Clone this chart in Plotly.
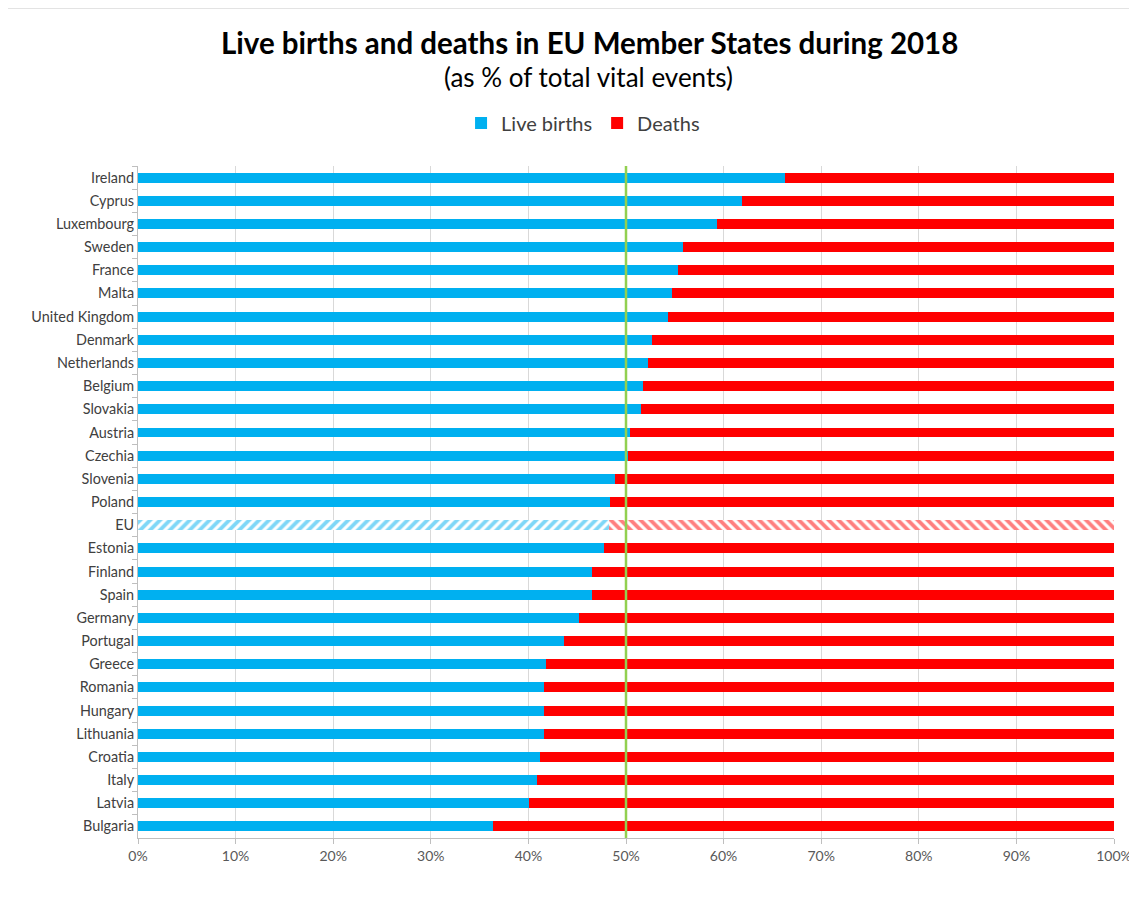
import plotly.graph_objects as go

countries = ["Ireland", "Cyprus", "Luxembourg", "Sweden", "France", "Malta",
             "United Kingdom", "Denmark", "Netherlands", "Belgium", "Slovakia",
             "Austria", "Czechia", "Slovenia", "Poland", "EU", "Estonia",
             "Finland", "Spain", "Germany", "Portugal", "Greece", "Romania",
             "Hungary", "Lithuania", "Croatia", "Italy", "Latvia", "Bulgaria"]

live_births = [66.3, 61.9, 59.3, 55.8, 55.3, 54.7, 54.3, 52.7, 52.3, 51.7,
               51.5, 50.4, 50.2, 48.9, 48.4, 48.3, 47.7, 46.5, 46.5, 45.2,
               43.6, 41.8, 41.6, 41.6, 41.6, 41.2, 40.9, 40.1, 36.4]

deaths = [33.7, 38.1, 40.7, 44.2, 44.7, 45.3, 45.7, 47.3, 47.7, 48.3,
          48.5, 49.6, 49.8, 51.1, 51.6, 51.7, 52.3, 53.5, 53.5, 54.8,
          56.4, 58.2, 58.4, 58.4, 58.4, 58.8, 59.1, 59.9, 63.6]

x_tick_values = [0, 10, 20, 30, 40, 50, 60, 70, 80, 90, 100]
x_tick_labels = ["0%", "10%", "20%", "30%", "40%", "50%", "60%", "70%",
                 "80%", "90%", "100%"]

BLUE = "#00B0F0"
RED = "#FF0000"
FONT = "Lato"

births_patterns = ["/" if c == "EU" else "" for c in countries]
deaths_patterns = ["\\" if c == "EU" else "" for c in countries]

# page offset (body margin) is 8px; target plot area 138..1114 x 166..838
L, R, T, B = 130, 31, 158, 75
PLOT_TOP, PLOT_H = 166, 672


def py(p):
    return (PLOT_TOP + PLOT_H - p) / PLOT_H


fig = go.Figure()
fig.add_trace(go.Bar(
    y=countries, x=live_births, orientation="h", name="Live births",
    marker=dict(color=BLUE, line=dict(width=0),
                pattern=dict(shape=births_patterns, fgcolor=BLUE,
                             bgcolor="white", size=7, solidity=0.55)),
))
fig.add_trace(go.Bar(
    y=countries, x=deaths, orientation="h", name="Deaths",
    marker=dict(color=RED, line=dict(width=0),
                pattern=dict(shape=deaths_patterns, fgcolor=RED,
                             bgcolor="white", size=7, solidity=0.55)),
))

# reference line at 50%
fig.add_shape(type="line", xref="x", yref="paper", x0=50, x1=50, y0=0, y1=1,
              line=dict(color="#92D050", width=2.5), layer="above")

# outer chart frame
fig.add_shape(type="rect", xref="paper", yref="paper",
              x0=-0.1342, x1=1.04, y0=-0.12, y1=py(8),
              line=dict(color="#C8C8C8", width=1), layer="below")

fig.update_layout(
    width=1137, height=905,
    margin=dict(l=L, r=R, t=T, b=B),
    barmode="stack", bargap=0.57,
    paper_bgcolor="white", plot_bgcolor="white",
    font=dict(family=FONT, color="#595959", size=14),
    showlegend=True,
    legend=dict(orientation="h", x=0.456, xanchor="center",
                y=py(123), yanchor="middle",
                font=dict(family=FONT, size=20, color="#404040"),
                itemwidth=30, traceorder="normal"),
    xaxis=dict(range=[0, 100], tickvals=x_tick_values, ticktext=x_tick_labels,
               showgrid=True, gridcolor="#D9D9D9", gridwidth=1,
               showline=True, linecolor="#BFBFBF", linewidth=1,
               ticks="outside", ticklen=5, tickcolor="#BFBFBF",
               tickfont=dict(family=FONT, size=14, color="#595959"),
               zeroline=False, fixedrange=True),
    yaxis=dict(categoryorder="array", categoryarray=countries,
               autorange="reversed", showgrid=False,
               showline=True, linecolor="#BFBFBF", linewidth=1,
               ticks="outside", ticklen=5, tickcolor="#BFBFBF",
               tickson="boundaries",
               tickfont=dict(family=FONT, size=14.4, color="#404040"),
               fixedrange=True),
    annotations=[
        dict(text="<b>Live births and deaths in EU Member States during 2018</b>",
             xref="paper", yref="paper", x=0.4626, y=py(42),
             xanchor="center", yanchor="middle", showarrow=False,
             font=dict(family=FONT, size=29.5, color="#000000")),
        dict(text="(as % of total vital events)", xref="paper",
             yref="paper", x=0.462, y=py(77),
             xanchor="center", yanchor="middle", showarrow=False,
             font=dict(family=FONT, size=26, color="#000000")),
    ],
)

fig.write_html("out.html")
